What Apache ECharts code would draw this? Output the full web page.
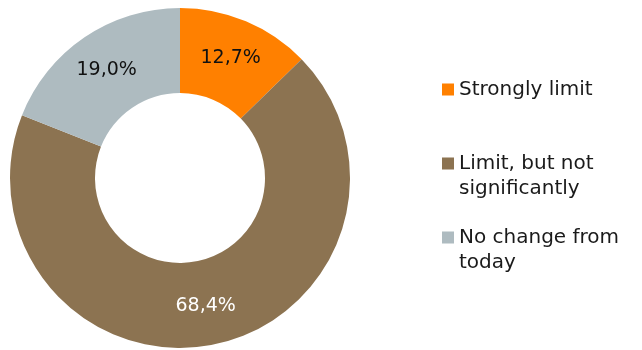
<!DOCTYPE html>
<html>
<head>
<meta charset="utf-8">
<script src="https://cdn.jsdelivr.net/npm/echarts@6/dist/echarts.min.js"></script>
<style>
  html, body { margin: 0; padding: 0; background: #fff; }
  #chart { width: 642px; height: 350px; }
</style>
</head>
<body>
<div id="chart"></div>
<script>
// categories and values (percent)
var categories = ['Strongly limit', 'Limit, but not significantly', 'No change from today'];
var legendText = ['Strongly limit\n ', 'Limit, but not\nsignificantly', 'No change from\ntoday'];
var values = [12.7, 68.4, 19.0];
var colors = ['#FF8000', '#8C7351', '#AEBBC0'];
var labelColors = ['#111111', '#ffffff', '#111111'];

var chart = echarts.init(document.getElementById('chart'));

var pieData = [];
for (var i = 0; i < categories.length; i++) {
  pieData.push({
    name: categories[i],
    value: values[i],
    itemStyle: { color: colors[i] },
    label: { color: labelColors[i] }
  });
}

// square icon at the top of a taller box, so it lines up with the first text line
var icon = 'path://M0,6.5h12v12h-12z M0,0h0.01v0.01h-0.01z M0,50h0.01v-0.01h-0.01z';

chart.setOption({
  animation: false,
  legend: {
    orient: 'vertical',
    left: 442,
    top: 77,
    padding: 0,
    itemWidth: 12,
    itemHeight: 50,
    itemGap: 24,
    icon: icon,
    data: categories,
    formatter: function (name) {
      return legendText[categories.indexOf(name)];
    },
    textStyle: {
      fontFamily: 'DejaVu Sans',
      fontSize: 20,
      lineHeight: 25,
      color: '#1a1a1a'
    }
  },
  series: [{
    type: 'pie',
    center: [180, 178],
    radius: [85, 170],
    startAngle: 90,
    label: {
      show: true,
      position: 'inside',
      fontFamily: 'DejaVu Sans',
      fontSize: 19,
      formatter: function (p) {
        return p.value.toFixed(1).replace('.', ',') + '%';
      }
    },
    labelLine: { show: false },
    emphasis: { disabled: true },
    data: pieData
  }]
});
</script>
</body>
</html>
